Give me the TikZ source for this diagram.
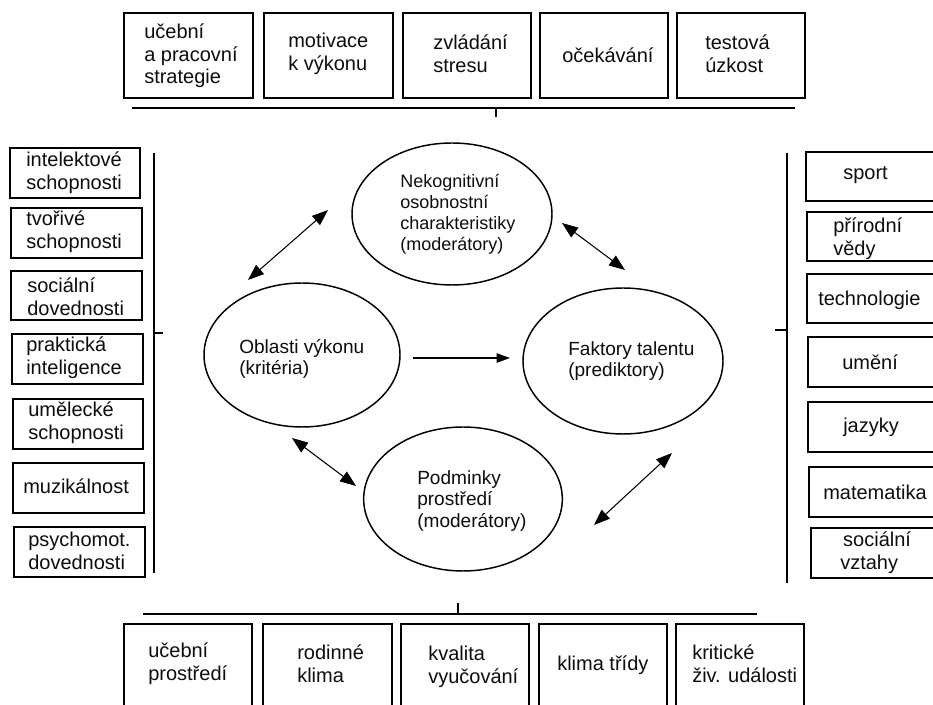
\documentclass[tikz,border=0pt]{standalone}
\usepackage{fontspec}
\setmainfont{Liberation Sans}
\usetikzlibrary{fit,arrows.meta,shapes.geometric}
\tikzset{
  box/.style={draw=black, line width=1.5pt, rectangle, inner sep=0pt},
  txt/.style={anchor=west, align=left, inner sep=0pt, font=\fontsize{15}{17}\selectfont, text=black!95},
  etxt/.style={anchor=west, align=left, inner sep=0pt, font=\fontsize{14.3}{16.3}\selectfont, text=black!95},
  etxtsmall/.style={anchor=west, align=left, inner sep=0pt, font=\fontsize{13.5}{15.8}\selectfont, text=black!95},
  ell/.style={draw=black, line width=1.1pt, ellipse, inner sep=0pt},
  bracket/.style={line width=2pt},
  vbracket/.style={line width=1.5pt},
  dbl/.style={line width=0.8pt, {Triangle[length=12pt,width=9pt]}-{Triangle[length=12pt,width=9pt]}},
  single/.style={line width=0.9pt, -{Triangle[length=10pt,width=7pt]}}
}
\begin{document}
\begin{tikzpicture}[x=0.75pt,y=-0.75pt]
\useasboundingbox (0,0) rectangle (933,705);
\fill[white] (0,0) rectangle (933,705);

% ---- top boxes
\node[box, fit={(124,13) (253,98)}] (t1) {};
\node[box, fit={(264,13) (393,98)}] (t2) {};
\node[box, fit={(403,13) (531,98)}] (t3) {};
\node[box, fit={(540,13) (668,98)}] (t4) {};
\node[box, fit={(677,13) (805,98)}] (t5) {};
\node[txt] (t1x) at (144,56) {učební\\a pracovní\\strategie};
\node[txt] (t2x) at (288,54) {motivace\\k výkonu};
\node[txt] (t3x) at (433,54) {zvládání\\stresu};
\node[txt] (t4x) at (562,55) {očekávání};
\node[txt] (t5x) at (705,54) {testová\\úzkost};
\coordinate (tl) at (132,108);
\coordinate (tr) at (795,108);
\coordinate (tm) at (496,108);
\coordinate (tmt) at (496,117);
\draw[bracket] (tl) -- (tr);
\draw[vbracket] (tm) -- (tmt);

% ---- left boxes
\node[box, fit={(10,148) (140,198)}] (l1) {};
\node[box, fit={(11,208) (142,258)}] (l2) {};
\node[box, fit={(11,271) (142,320)}] (l3) {};
\node[box, fit={(12,334) (143,384)}] (l4) {};
\node[box, fit={(13,399) (143,449)}] (l5) {};
\node[box, fit={(13,463) (144,513)}] (l6) {};
\node[box, fit={(14,527) (145,577)}] (l7) {};
\node[txt] (l1x) at (26,173) {intelektové\\schopnosti};
\node[txt] (l2x) at (26,232) {tvořivé\\schopnosti};
\node[txt] (l3x) at (27,297) {sociální\\dovednosti};
\node[txt] (l4x) at (26,358) {praktická\\inteligence};
\node[txt] (l5x) at (28,423) {umělecké\\schopnosti};
\node[txt] (l6x) at (23,486) {muzikálnost};
\node[txt] (l7x) at (28,551) {psychomot.\\dovednosti};
\coordinate (lt) at (154,153);
\coordinate (lb) at (154,573);
\coordinate (lm) at (154,333);
\coordinate (lmt) at (163,333);
\draw[vbracket] (lt) -- (lb);
\draw[vbracket] (lm) -- (lmt);

% ---- right boxes
\node[box, fit={(806,152) (936,201)}] (r1) {};
\node[box, fit={(807,212) (936,261)}] (r2) {};
\node[box, fit={(807,274) (936,323)}] (r3) {};
\node[box, fit={(808,337) (936,387)}] (r4) {};
\node[box, fit={(808,402) (936,452)}] (r5) {};
\node[box, fit={(809,467) (936,517)}] (r6) {};
\node[box, fit={(811,528) (936,578)}] (r7) {};
\node[txt] (r1x) at (843,175) {sport};
\node[txt] (r2x) at (833,239) {přírodní\\vědy};
\node[txt] (r3x) at (818,300) {technologie};
\node[txt] (r4x) at (842,362) {umění};
\node[txt] (r5x) at (843,427) {jazyky};
\node[txt] (r6x) at (823,492) {matematika};
\node[txt] (r7x) at (840,553) {\hspace*{2.2pt}sociální\\vztahy};
\coordinate (rt) at (787,153);
\coordinate (rb) at (787,583);
\coordinate (rm) at (787,330);
\coordinate (rmt) at (775,330);
\draw[vbracket] (rt) -- (rb);
\draw[vbracket] (rm) -- (rmt);

% ---- bottom boxes
\node[box, fit={(124,624) (252,712)}] (b1) {};
\node[box, fit={(263,624) (392,712)}] (b2) {};
\node[box, fit={(401,624) (529,712)}] (b3) {};
\node[box, fit={(539,624) (667,712)}] (b4) {};
\node[box, fit={(676,624) (804,712)}] (b5) {};
\node[txt] (b1x) at (148,664) {učební\\prostředí};
\node[txt] (b2x) at (297,664) {rodinné\\klima};
\node[txt] (b3x) at (428,667) {kvalita\\vyučování};
\node[txt] (b4x) at (557,665) {klima třídy};
\node[txt] (b5x) at (692,664) {kritické\\živ. události};
\coordinate (bl) at (143,614);
\coordinate (br) at (757,614);
\coordinate (bm) at (458,614);
\coordinate (bmt) at (458,603);
\draw[bracket] (bl) -- (br);
\draw[vbracket] (bm) -- (bmt);

% ---- ellipses
\node[ell, minimum width=150pt, minimum height=106.5pt] (et) at (452,214) {};
\node[ell, minimum width=147pt, minimum height=108pt] (el) at (302,355) {};
\node[ell, minimum width=150pt, minimum height=109.5pt] (er) at (623,361) {};
\node[ell, minimum width=149pt, minimum height=108pt] (eb) at (463,499) {};
\node[etxtsmall] (etx) at (400,214) {Nekognitivní\\osobnostní\\charakteristiky\\(moderátory)};
\node[etxt] (elx) at (239,359) {Oblasti výkonu\\(kritéria)};
\node[etxt] (erx) at (568,361) {Faktory talentu\\(prediktory)};
\node[etxt] (ebx) at (417,501) {Podminky\\prostředí\\(moderátory)};

% ---- arrows
\coordinate (a1s) at (248,280);
\coordinate (a1e) at (328,210);
\coordinate (a2s) at (562,223);
\coordinate (a2e) at (625,270);
\coordinate (a3s) at (413,358);
\coordinate (a3e) at (510,358);
\coordinate (a4s) at (292,438);
\coordinate (a4e) at (356,486);
\coordinate (a5s) at (594,525);
\coordinate (a5e) at (672,453);
\draw[dbl] (a1s) -- (a1e);
\draw[dbl] (a2s) -- (a2e);
\draw[single] (a3s) -- (a3e);
\draw[dbl] (a4s) -- (a4e);
\draw[dbl] (a5s) -- (a5e);
\end{tikzpicture}
\end{document}
